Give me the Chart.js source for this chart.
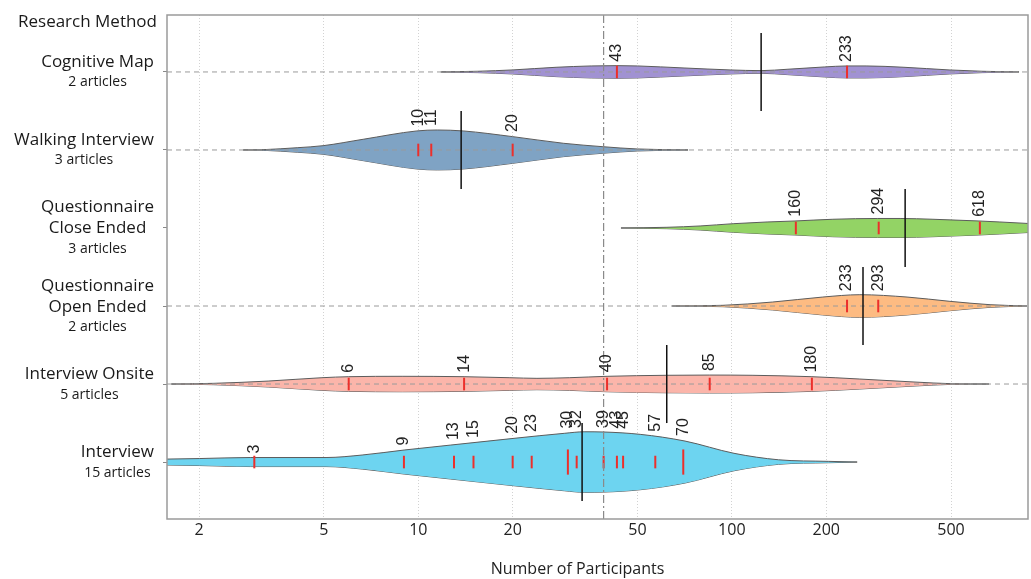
<!DOCTYPE html>
<html>
<head>
<meta charset="utf-8">
<script src="https://cdn.jsdelivr.net/npm/chart.js@4.4.1/dist/chart.umd.min.js"></script>
<style>
  html, body { margin: 0; padding: 0; background: #fff; overflow: hidden; }
  #wrap { width: 1031px; height: 579px; position: relative; }
  canvas { display: block; }
</style>
</head>
<body>
<div id="wrap"><canvas id="chart"></canvas></div>
<script>
// research methods, top row first
const methods = [['Cognitive Map'], ['Walking Interview'], ['Questionnaire', 'Close Ended'], ['Questionnaire', 'Open Ended'], ['Interview Onsite'], ['Interview']];
const articles = [2, 3, 3, 2, 5, 15];

// participants per article (repeated values = two articles)
const cognitiveMap = [43, 233];
const walkingInterview = [10, 11, 20];
const closeEnded = [160, 294, 618];
const openEnded = [233, 293];
const interviewOnsite = [6, 14, 40, 85, 180];
const interview = [3, 9, 13, 15, 20, 23, 30, 30, 32, 39, 43, 45, 57, 70, 70];
const participants = [cognitiveMap, walkingInterview, closeEnded, openEnded, interviewOnsite, interview];

// black bar per method, grey dash-dot line for all articles
const means = [124, 13.7, 357, 262, 62, 33.3];
const overallMedian = 39;

// violin outlines: participants, half width (hundredths of a row)
const cognitiveX = [11.8, 15.5, 20, 27.5, 35.6, 43, 50, 70.4, 98.7, 124, 151, 197, 233, 268, 354, 493, 628, 824];
const cognitiveW = [0, 0.9, 2.6, 6.0, 7.7, 8.1, 7.7, 5.1, 2.6, 1.7, 3.5, 6.4, 7.7, 7.7, 6.0, 2.6, 0.9, 0];
const walkingX = [2.76, 3.2, 4.11, 4.97, 6.67, 9.9, 11.5, 13.9, 20, 29, 38.8, 49.9, 72.5];
const walkingW = [0, 0.4, 2.9, 5.5, 13.7, 24.4, 25.6, 24.4, 17.1, 8.6, 4.2, 1.3, 0];
const closeX = [44.3, 62.1, 79.2, 101, 129.5, 159, 210, 292, 344, 438, 614, 716, 880];
const closeW = [0, 0.9, 2.6, 5.5, 7.7, 9.0, 11.2, 12.2, 12.2, 11.2, 9.0, 7.7, 5.8];
const openX = [64.5, 93.7, 135, 195, 256, 362, 496, 666, 874];
const openW = [0, 0.9, 5.1, 11.5, 14.5, 11.5, 6.0, 1.7, 0];
const onsiteX = [1.63, 2.23, 3.32, 4.93, 6, 8.88, 14, 19.6, 23.9, 30.3, 40, 61.7, 85, 116, 180, 256, 381, 504, 661];
const onsiteW = [0, 0.9, 3.8, 8.1, 9.4, 9.9, 9.4, 8.1, 7.3, 8.1, 9.9, 11.2, 11.5, 11.2, 9.4, 6.4, 2.6, 0.4, 0];
const interviewX = [1.58, 2.01, 2.91, 5.08, 6.62, 9.01, 12.7, 20.2, 29.2, 33.8, 39.1, 51, 70.9, 101.6, 141, 203, 251];
const interviewW = [3.8, 4.5, 5.8, 5.8, 9.0, 15.4, 21.8, 30.4, 36.8, 38.8, 38.5, 35.5, 26.9, 11.2, 2.9, 0.9, 0];
const outlineX = [cognitiveX, walkingX, closeX, openX, onsiteX, interviewX];
const outlineW = [cognitiveW, walkingW, closeW, openW, onsiteW, interviewW];

const xTicks = [2, 5, 10, 20, 50, 100, 200, 500];

const fills = ['#a192d2', '#7fa3c4', '#93d365', '#fdbb82', '#fbb5aa', '#6dd4f0'];
const guideRows = [true, true, false, true, true, false];
const xMin = 1.58, xMax = 880, yMin = 0.27, yMax = 6.73;
const rowOf = i => methods.length - i;

const datasets = [];

methods.forEach((m, i) => {
    const row = rowOf(i);
    const xs = outlineX[i], ws = outlineW[i];
    // upper edge, filled down to the lower edge
    datasets.push({
        data: xs.map((x, k) => ({ x: x, y: row + ws[k] / 100 })),
        borderColor: '#5c5c5c', borderWidth: 1, backgroundColor: fills[i],
        fill: '+1', pointRadius: 0, cubicInterpolationMode: 'monotone', order: 10
    });
    datasets.push({
        data: xs.map((x, k) => ({ x: x, y: row - ws[k] / 100 })),
        borderColor: '#5c5c5c', borderWidth: 1,
        fill: false, pointRadius: 0, cubicInterpolationMode: 'monotone', order: 10
    });
});

guideRows.forEach((on, i) => {
    if (!on) return;
    datasets.push({
        data: [{ x: xMin, y: rowOf(i) }, { x: xMax, y: rowOf(i) }],
        borderColor: '#9a9a9a', borderWidth: 1, borderDash: [5, 4],
        fill: false, pointRadius: 0, order: 4
    });
});

// red ticks, longer when two articles share a value
participants.forEach((vals, i) => {
    const uniq = [...new Set(vals)];
    datasets.push({
        showLine: false,
        data: uniq.map(v => ({ x: v, y: rowOf(i) })),
        pointStyle: 'line', pointRotation: 90,
        pointRadius: uniq.map(v => 6.3 * vals.filter(w => w === v).length),
        pointBorderColor: '#ec2f2b', pointBorderWidth: 2, order: 3
    });
});

datasets.push({
    showLine: false,
    data: means.map((v, i) => ({ x: v, y: rowOf(i) })),
    pointStyle: 'line', pointRotation: 90,
    pointRadius: ctx => {
        const y = ctx.chart.scales.y;
        return Math.abs(y.getPixelForValue(0.5) - y.getPixelForValue(0));
    },
    pointBorderColor: '#111', pointBorderWidth: 1.5, order: 2
});

datasets.push({
    data: [{ x: overallMedian, y: yMin }, { x: overallMedian, y: yMax }],
    borderColor: '#8a8a8a', borderWidth: 1.2, borderDash: [8, 3, 2, 3],
    fill: false, pointRadius: 0, order: 1
});

function halfAt(xs, ws, v) {
    for (let k = 0; k < xs.length - 1; k++) {
        if (v >= xs[k] && v <= xs[k + 1]) {
            const t = (Math.log(v) - Math.log(xs[k])) / (Math.log(xs[k + 1]) - Math.log(xs[k]));
            return ws[k] + t * (ws[k + 1] - ws[k]);
        }
    }
    return 0;
}

const textPlugin = {
    id: 'texts',
    afterDraw(chart) {
        const ctx = chart.ctx;
        const area = chart.chartArea;
        const x = chart.scales.x, y = chart.scales.y;
        ctx.save();

        // frame
        ctx.strokeStyle = '#9a9a9a';
        ctx.lineWidth = 1.5;
        ctx.strokeRect(area.left, area.top, area.right - area.left, area.bottom - area.top);

        // method labels
        ctx.fillStyle = '#1a1a1a';
        ctx.textAlign = 'center';
        ctx.textBaseline = 'alphabetic';
        const rightEdge = area.left - 13;
        methods.forEach((lines, i) => {
            const yc = y.getPixelForValue(rowOf(i));
            const items = lines.map(t => ({ t: t, font: '17px "Open Sans"', h: 21, cap: 6 }));
            items.push({ t: articles[i] + ' articles', font: '14px "Open Sans"', h: 20, cap: 5 });
            let w = 0;
            items.forEach(it => { ctx.font = it.font; w = Math.max(w, ctx.measureText(it.t).width); });
            const cx = rightEdge - w / 2;
            let top = yc - items.reduce((s, it) => s + it.h, 0) / 2 - 1;
            items.forEach(it => {
                ctx.font = it.font;
                ctx.fillText(it.t, cx, top + it.h / 2 + it.cap);
                top += it.h;
            });
        });
        ctx.font = '17px "Open Sans"';
        ctx.textAlign = 'right';
        ctx.fillText('Research Method', area.left - 10, area.top + 12);

        // x axis title, a little left of the plot centre as in the figure
        ctx.font = '16px "Open Sans"';
        ctx.textAlign = 'center';
        ctx.fillStyle = '#222';
        ctx.fillText('Number of Participants', (area.left + area.right) / 2 - 20, area.bottom + 55);

        // value labels above each violin
        ctx.font = '16px "Liberation Sans"';
        ctx.textAlign = 'left';
        ctx.textBaseline = 'middle';
        participants.forEach((vals, i) => {
            const row = rowOf(i);
            [...new Set(vals)].forEach(v => {
                const px = x.getPixelForValue(v);
                let hw = 0;
                [-6, 0, 6].forEach(d => {
                    hw = Math.max(hw, halfAt(outlineX[i], outlineW[i], x.getValueForPixel(px + d)));
                });
                const py = y.getPixelForValue(row + hw / 100) - 4;
                ctx.save();
                ctx.translate(px, py);
                ctx.rotate(-Math.PI / 2);
                ctx.fillText(String(v), 0, 0);
                ctx.restore();
            });
        });
        ctx.restore();
    }
};

new Chart(document.getElementById('chart'), {
    type: 'line',
    data: { datasets: datasets },
    options: {
        responsive: true,
        maintainAspectRatio: false,
        animation: false,
        events: [],
        layout: { autoPadding: false, padding: { top: 15, right: 3, left: 0, bottom: 0 } },
        plugins: { legend: { display: false }, tooltip: { enabled: false } },
        scales: {
            x: {
                type: 'logarithmic',
                min: xMin, max: xMax,
                afterBuildTicks: s => { s.ticks = xTicks.map(v => ({ value: v })); },
                afterFit: s => { s.height = 60; s.paddingLeft = 0; s.paddingRight = 0; },
                ticks: {
                    autoSkip: false, maxRotation: 0, padding: 2,
                    color: '#222', font: { family: 'Open Sans', size: 16 },
                    callback: v => String(v)
                },
                grid: { color: '#d2d2d2', lineWidth: 1, drawTicks: false },
                border: { display: false, dash: [1, 2] },
                title: { display: false }
            },
            y: {
                type: 'linear',
                min: yMin, max: yMax,
                afterBuildTicks: s => { s.ticks = methods.map((m, i) => ({ value: rowOf(i) })); },
                afterFit: s => { s.width = 167; s.paddingTop = 0; s.paddingBottom = 0; },
                ticks: { callback: () => '' },
                grid: { drawOnChartArea: false, drawTicks: true, tickLength: 4, color: '#888' },
                border: { display: false }
            }
        }
    },
    plugins: [textPlugin]
});
</script>
</body>
</html>
